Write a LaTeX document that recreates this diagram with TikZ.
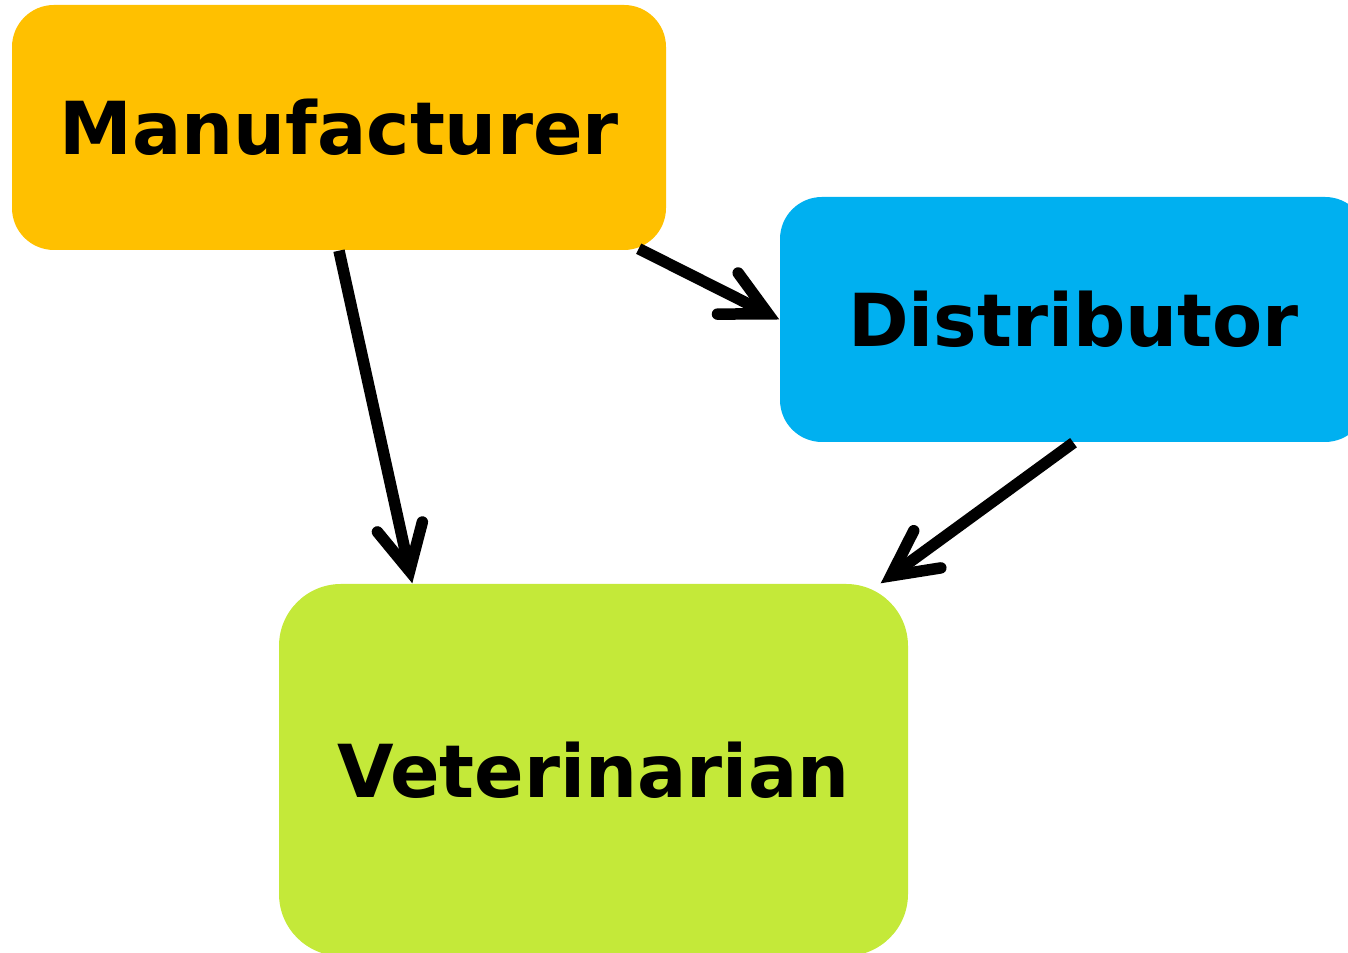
\documentclass[tikz,border=0pt]{standalone}
\usepackage{fontspec}
\setmainfont{DejaVu Sans}
\usetikzlibrary{arrows.meta}

\begin{document}
\begin{tikzpicture}[
      party/.style={rounded corners=0.42cm,inner sep=0pt,
        font=\fontsize{20.8}{25}\selectfont\bfseries},
      flow/.style={line width=0.115cm,
        -{Straight Barb[length=0.45cm,width=0.46cm,line cap=round,line join=miter]}}]
    \useasboundingbox (0,0) rectangle (13.48,9.53);
    \clip (0,0) rectangle (13.48,9.53);
    \definecolor{manuf}{HTML}{FFC000}
    \definecolor{distr}{HTML}{00B0F0}
    \definecolor{vetcol}{HTML}{C4E939}
    % the three parties
    \node[party,fill=manuf,minimum width=6.54cm,minimum height=2.45cm]
      (man) at (3.39,8.255) {Manufacturer};
    \node[party,fill=distr,minimum width=5.87cm,minimum height=2.45cm]
      (dist) at (10.735,6.335) {Distributor};
    \node[party,fill=vetcol,rounded corners=0.62cm,minimum width=6.29cm,minimum height=3.72cm]
      (vet) at (5.935,1.83) {Veterinarian};
    % supply flows
    \draw[flow] (man.south) -- ([xshift=1.34cm]vet.north west);
    \draw[flow] ([xshift=-0.28cm,yshift=0.02cm]man.south east) -- (dist.west);
    \draw[flow] (dist.south) -- ([xshift=-0.28cm]vet.north east);
  \end{tikzpicture}
\end{document}
